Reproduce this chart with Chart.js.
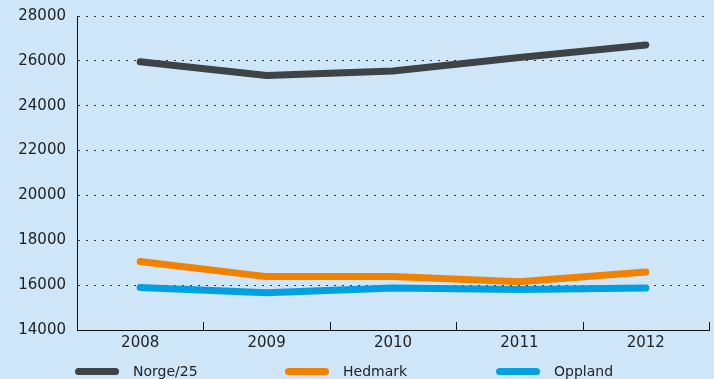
<!DOCTYPE html>
<html>
<head>
<meta charset="utf-8">
<script src="https://cdn.jsdelivr.net/npm/chart.js@4/dist/chart.umd.min.js"></script>
<style>
  html, body { margin: 0; padding: 0; background: #cfe6f9; }
  #wrap { position: relative; width: 714px; height: 379px; background: #cfe6f9; }
  #c { position: absolute; left: 0; top: 0; }
  #legend { position: absolute; top: 362px; left: 0; width: 714px; height: 18px; font-family: "DejaVu Sans", sans-serif; font-size: 14px; color: #222; }
  .item { position: absolute; top: 0; height: 18px; display: flex; align-items: center; }
  .swatch { width: 44px; height: 7px; border-radius: 4px; margin-right: 14px; }
</style>
</head>
<body>
<div id="wrap">
  <canvas id="c" width="714" height="379"></canvas>
  <div id="legend"></div>
</div>
<script>
const categories = ["2008", "2009", "2010", "2011", "2012"];
const seriesNames = ["Norge/25", "Hedmark", "Oppland"];
const norge = [25960, 25350, 25550, 26150, 26710];
const hedmark = [17050, 16380, 16380, 16150, 16590];
const oppland = [15900, 15660, 15870, 15810, 15870];
const yTicks = [14000, 16000, 18000, 20000, 22000, 24000, 26000, 28000];
const colors = ["#3d4346", "#f08200", "#00a0e1"];
const legendLeft = [75, 285, 496];

const values = [norge, hedmark, oppland];

const innerTicks = {
  id: 'innerTicks',
  afterDatasetsDraw(chart) {
    const x = chart.scales.x;
    const ctx = chart.ctx;
    const bottom = chart.chartArea.bottom;
    ctx.save();
    ctx.setLineDash([]);
    ctx.strokeStyle = '#111';
    ctx.lineWidth = 1;
    const half = (x.getPixelForValue(1) - x.getPixelForValue(0)) / 2;
    for (let i = 0; i < categories.length; i++) {
      const px = Math.round(x.getPixelForValue(i) + half) + 0.5;
      ctx.beginPath();
      ctx.moveTo(px, bottom);
      ctx.lineTo(px, bottom - 8);
      ctx.stroke();
    }
    ctx.restore();
  }
};

new Chart(document.getElementById('c'), {
  type: 'line',
  data: {
    labels: categories,
    datasets: seriesNames.map((n, i) => ({
      label: n,
      data: values[i],
      borderColor: colors[i],
      backgroundColor: colors[i],
      borderWidth: 7,
      borderCapStyle: 'round',
      borderJoinStyle: 'round',
      pointRadius: 0,
      tension: 0,
      fill: false
    }))
  },
  options: {
    responsive: false,
    animation: false,
    layout: { padding: { top: 16, right: 5, left: 0, bottom: 27 } },
    plugins: { legend: { display: false }, tooltip: { enabled: false } },
    scales: {
      x: {
        offset: true,
        grid: { display: false, drawTicks: false },
        border: { display: true, color: '#111', width: 1 },
        ticks: { color: '#222', font: { family: 'DejaVu Sans', size: 15 }, padding: 4, maxRotation: 0 },
        afterFit(s) { s.height = 22; s.paddingLeft = 0; s.paddingRight = 0; }
      },
      y: {
        min: yTicks[0],
        max: yTicks[yTicks.length - 1],
        afterBuildTicks(s) { s.ticks = yTicks.map(v => ({ value: v })); },
        grid: { color: '#333', lineWidth: 1, drawTicks: false },
        border: { display: true, color: '#111', width: 1, dash: [2, 6] },
        ticks: { color: '#222', font: { family: 'DejaVu Sans', size: 15 }, padding: 11, callback: v => String(v) },
        afterFit(s) { s.width = 77; s.paddingTop = 0; s.paddingBottom = 0; }
      }
    }
  },
  plugins: [innerTicks]
});

const legend = document.getElementById('legend');
seriesNames.forEach((n, i) => {
  const d = document.createElement('div');
  d.className = 'item';
  d.style.left = legendLeft[i] + 'px';
  d.innerHTML = '<span class="swatch" style="background:' + colors[i] + '"></span><span>' + n + '</span>';
  legend.appendChild(d);
});
</script>
</body>
</html>
